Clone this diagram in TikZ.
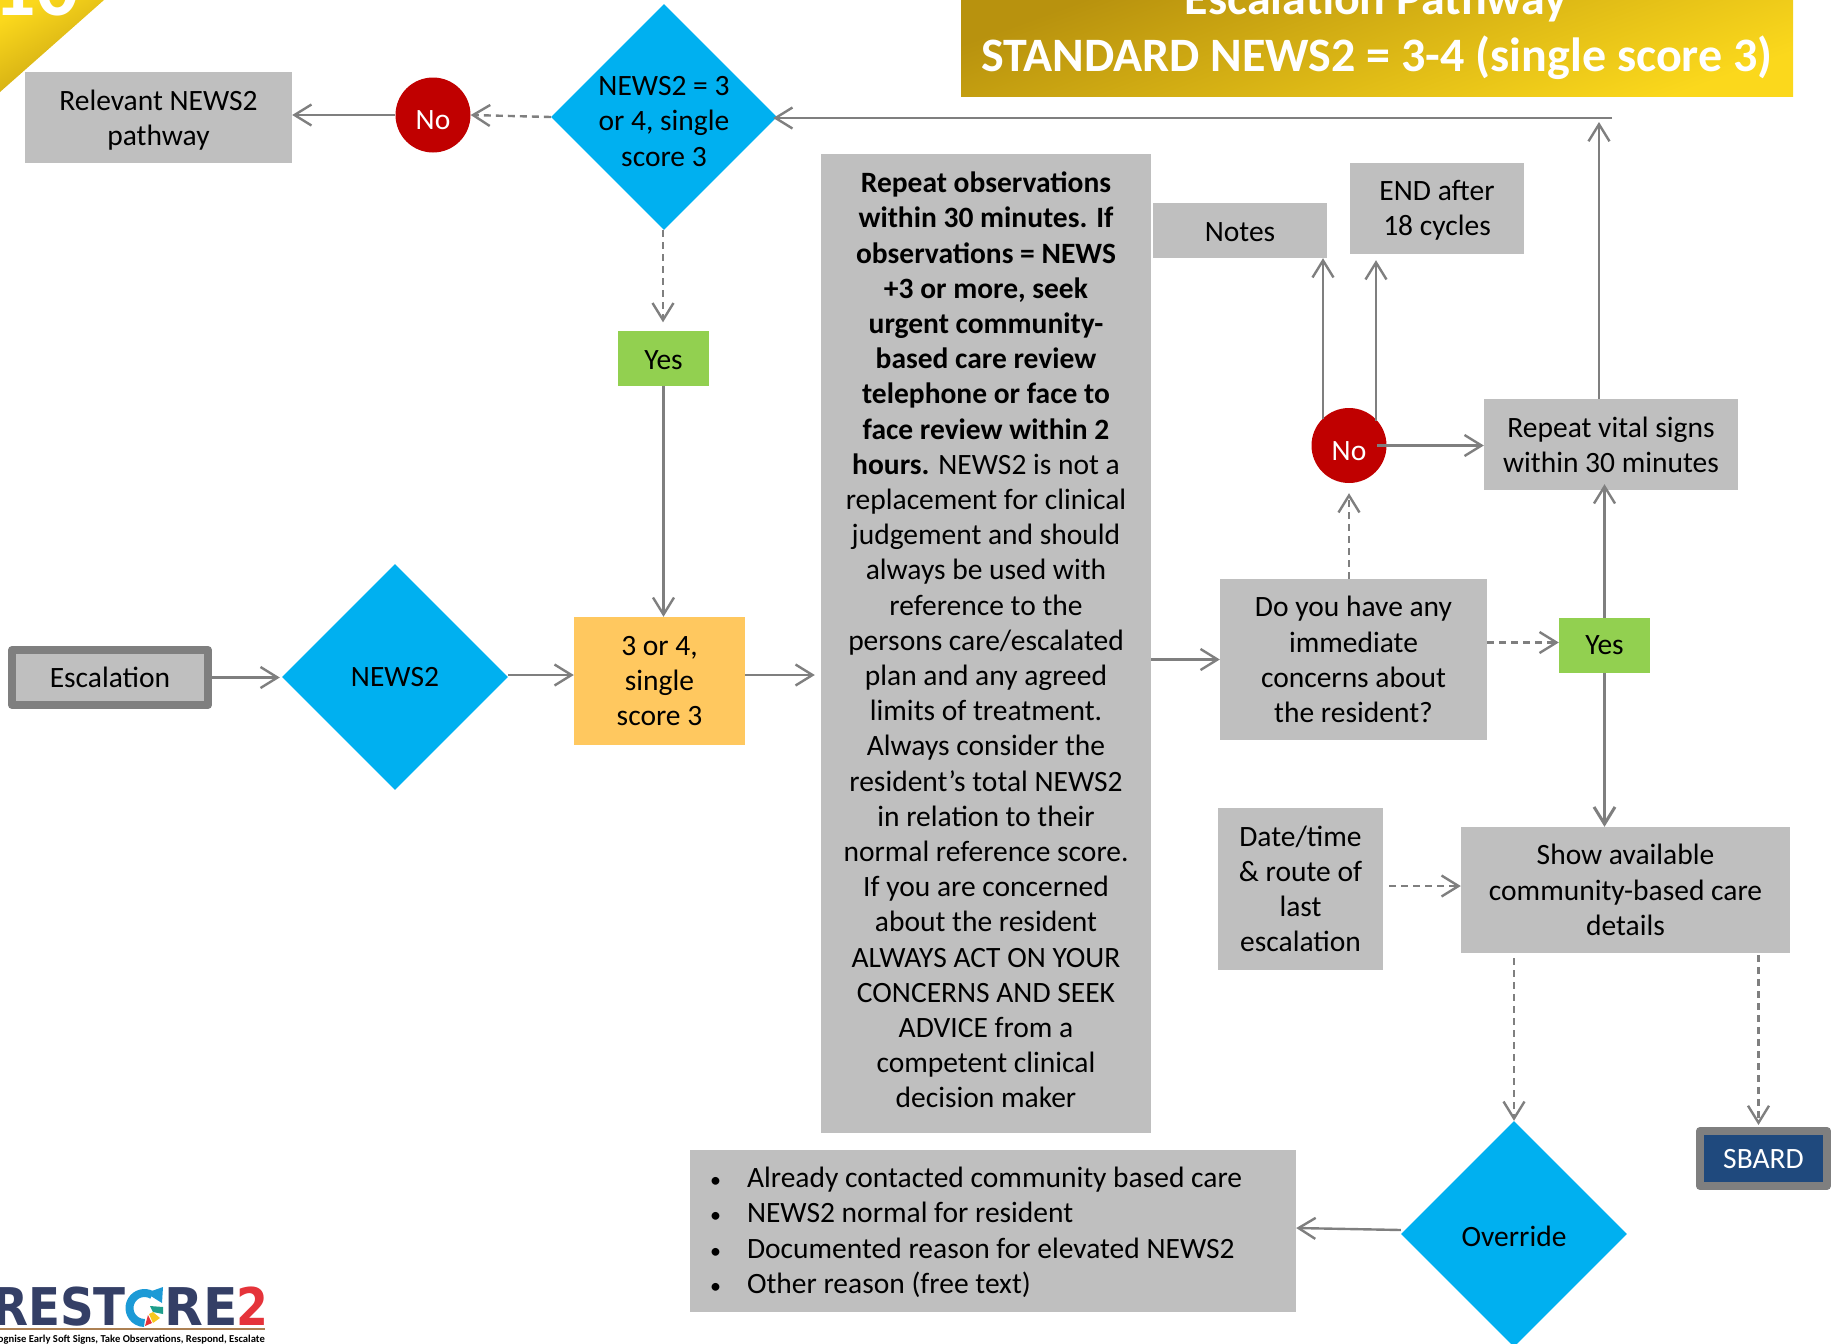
\documentclass[tikz,border=0pt]{standalone}
\usepackage{fontspec}
\setmainfont{Carlito}
\newfontfamily\logofont{DejaVu Sans}
\usetikzlibrary{shapes.geometric,arrows.meta}
\definecolor{boxgrey}{HTML}{BFBFBF}
\definecolor{linegrey}{HTML}{7F7F7F}
\definecolor{decblue}{HTML}{00B0F0}
\definecolor{nored}{HTML}{C00000}
\definecolor{yesgreen}{HTML}{92D050}
\definecolor{scoreorange}{HTML}{FFC85F}
\definecolor{sbardblue}{HTML}{1F497D}
\definecolor{golddark}{HTML}{B8920E}
\definecolor{goldlight}{HTML}{FBD81C}
\definecolor{logonavy}{HTML}{343F66}
\definecolor{logored}{HTML}{E5333A}
\definecolor{logoblue}{HTML}{1C9AD6}
\definecolor{logoteal}{HTML}{1E9E8C}
\definecolor{logoyellow}{HTML}{F7C81E}
\newcommand{\bodytxt}{\fontsize{29.5}{35.2}\selectfont}
\newcommand{\bul}{\makebox[37pt][l]{\fontsize{22}{22}\selectfont\textbullet}}

\begin{document}
\begin{tikzpicture}[
			x=1pt,y=-1pt,
			>={Straight Barb[length=17pt,width=21pt]},
			every node/.style={font=\bodytxt,align=center,inner sep=0pt},
			greybox/.style={fill=boxgrey,text=black},
			decision/.style={diamond,aspect=1,fill=decblue,minimum width=226pt,minimum height=226pt,inner sep=-10pt},
			nocircle/.style={circle,fill=nored,text=white,minimum size=75pt,text height=30pt},
			yesbox/.style={fill=yesgreen},
			framebox/.style={draw=linegrey,line width=8pt,line join=round},
			flow/.style={draw=linegrey,line width=2.4pt,->},
			dashflow/.style={flow,dash pattern=on 7pt off 5pt},
			flowthick/.style={flow,line width=3pt},
			titletxt/.style={text=white,font=\fontsize{48}{48}\selectfont\bfseries,anchor=base},
			logotxt/.style={font=\fontsize{52}{52}\selectfont\logofont\bfseries}
			]

			\useasboundingbox (0,0) rectangle (1837,1344);
			\clip (0,0) rectangle (1837,1344);

			% banner and corner tag
			\shade[left color=golddark,right color=goldlight,shading angle=20] (961,0) rectangle (1793,96);
			\shade[left color=goldlight,right color=golddark!80!goldlight,shading angle=30] (0,0) -- (104,0) -- (0,92) -- cycle;
			\node[text=white,font=\fontsize{84}{84}\selectfont\bfseries,anchor=base] (tagnum) at (36,15) {10};
			\node[titletxt] (titlea) at (1376,14) {Escalation Pathway};
			\node[titletxt] (titleb) at (1377,71) {STANDARD NEWS2 = 3-4 (single score 3)};

			% top row
			\node[greybox,minimum width=267pt,minimum height=91pt] (relevant) at (158.5,117.5) {\rule{0pt}{26pt}Relevant NEWS2\\pathway};
			\node[nocircle] (notop) at (433,115) {No};
			\node[decision] (newsthree) at (664,117) {\rule{0pt}{28pt}NEWS2 = 3\\or 4, single\\score 3};
			\node[yesbox,minimum width=91pt,minimum height=55pt,text height=23pt] (yestop) at (663.5,358) {Yes};

			% main row
			\node[greybox,framebox,minimum width=196pt,minimum height=55pt] (escalation) at (110,677.5) {Escalation};
			\node[decision] (newsmain) at (395,677) {NEWS2};
			\node[fill=scoreorange,minimum width=171pt,minimum height=128pt] (score) at (659.5,681) {3 or 4,\\single\\score 3};

			\node[greybox,minimum width=330pt,minimum height=979pt] (repeatobs) at (986,643.5) {\textbf{Repeat observations}\\\textbf{within 30 minutes. If}\\\textbf{observations = NEWS}\\\textbf{+3 or more, seek}\\\textbf{urgent community-}\\\textbf{based care review}\\\textbf{telephone or face to}\\\textbf{face review within 2}\\\textbf{hours.} NEWS2 is not a\\replacement for clinical\\judgement and should\\always be used with\\reference to the\\persons care/escalated\\plan and any agreed\\limits of treatment.\\Always consider the\\resident's total NEWS2\\in relation to their\\normal reference score.\\If you are concerned\\about the resident\\ALWAYS ACT ON YOUR\\CONCERNS AND SEEK\\ADVICE from a\\competent clinical\\decision maker\rule[-7pt]{0pt}{7pt}};

			% right column
			\node[greybox,minimum width=174pt,minimum height=55pt,text height=23pt] (notes) at (1240,230.5) {Notes};
			\node[greybox,minimum width=174pt,minimum height=91pt] (endcycles) at (1437,208.5) {\rule{0pt}{24pt}END after\\18 cycles};
			\node[nocircle] (noright) at (1349,445.5) {No};
			\node[greybox,minimum width=254pt,minimum height=91pt] (repeatvital) at (1611,444.5) {Repeat vital signs\\within 30 minutes};
			\node[greybox,minimum width=267pt,minimum height=161pt] (concerns) at (1353.5,659.5) {Do you have any\\immediate\\concerns about\\the resident?};
			\node[yesbox,minimum width=91pt,minimum height=55pt] (yesright) at (1604.5,645.5) {Yes};
			\node[greybox,minimum width=165pt,minimum height=162pt] (lastesc) at (1300.5,889) {Date/time\\\& route of\\last\\escalation};
			\node[greybox,minimum width=329pt,minimum height=126pt] (showcare) at (1625.5,890) {Show available\\community-based care\\details};
			\node[fill=sbardblue,text=white,framebox,minimum width=127pt,minimum height=55pt,text height=21pt] (sbard) at (1763.5,1158.5) {SBARD};

			% bottom row
			\node[decision,text height=26pt] (override) at (1514,1234) {Override};
			\node[greybox,minimum width=606pt,minimum height=162pt,text width=566pt,align=flush left,inner xsep=20pt] (reasons) at (993,1231) {\rule{0pt}{23pt}\bul Already contacted community based care\\\bul NEWS2 normal for resident\\\bul Documented reason for elevated NEWS2\\\bul Other reason (free text)};

			% connectors
			\coordinate (loopend) at (1612,118);
			\coordinate (looptip) at (1599,122);
			\draw[dashflow] (newsthree.west) -- (notop.east);
			\draw[flow] (notop.west) -- (relevant.east |- notop);
			\draw[flow] (loopend) -- ([xshift=-4pt]newsthree.east |- loopend);
			\draw[flow] ([xshift=-12pt]repeatvital.north) -- (looptip);
			\draw[dashflow] ([xshift=-1pt]newsthree.south) -- ([xshift=-.5pt,yshift=8pt]yestop.north);
			\draw[flow] (yestop.south) -- (score.north -| yestop);
			\draw[flow] (escalation.east) -- ([xshift=-2pt,yshift=-.5pt]newsmain.west);
			\draw[flow] ([yshift=2pt]newsmain.east) -- ([yshift=6pt]score.west);
			\draw[flow] ([yshift=6pt]score.east) -- ([xshift=-6pt,yshift=6pt]repeatobs.west |- score);
			\draw[flow] (repeatobs.east |- concerns) -- (concerns.west);
			\draw[dashflow] (concerns.north -| noright) -- ([yshift=-10pt]noright.south);
			\draw[dashflow] ([yshift=3pt]concerns.east |- yesright) -- ([yshift=3pt]yesright.west);
			\draw[flow] (yesright.north) -- ([yshift=6pt]repeatvital.south -| yesright);
			\draw[flowthick] (yesright.south) -- (showcare.north -| yesright);
			\draw[flow] ([xshift=28pt]noright.center) -- (repeatvital.west |- noright);
			\draw[flow] ([xshift=-26pt,yshift=27pt]noright.center) -- ([xshift=-26pt]noright.center |- notes.south);
			\draw[flow] ([xshift=27pt,yshift=25pt]noright.center) -- ([xshift=27pt,yshift=-6pt]noright.center |- endcycles.south);
			\draw[dashflow] ([xshift=6pt,yshift=3pt]lastesc.east) -- ([yshift=4pt]showcare.west);
			\draw[dashflow] ([xshift=-111.5pt,yshift=-5pt]showcare.south) -- (override.north);
			\draw[dashflow] ([xshift=-5pt,yshift=-2pt]sbard.north |- showcare.south) -- ([xshift=-5pt,yshift=2pt]sbard.north);
			\draw[flow] ([yshift=4pt]override.west) -- ([yshift=3pt]reasons.east);

			% logo
			\node[logotxt,text=logonavy,anchor=base east,xscale=.9] (logoa) at (126,1325) {REST};
			\node[logotxt,text=logonavy,anchor=base west,xscale=.97] (logob) at (164,1325) {RE};
			\node[logotxt,text=logored,anchor=base west,xscale=.88] (logoc) at (236,1325) {2};
			\draw[logoblue,line width=8pt] (152,1295) arc (-60:-270:15);
			\fill[logoblue] (146,1293) -- (163,1287) -- (162,1303) -- cycle;
			\fill[logoteal] (150,1306) -- (163,1307) -- (163,1314) -- (153,1312) -- cycle;
			\fill[logoyellow] (153,1312) -- (160,1318) -- (153,1323) -- (149,1314) -- cycle;
			\fill[logored] (148,1315) -- (152,1323) -- (145,1326) -- cycle;
			\draw[brown!70!gray,line width=1.5pt] (0,1329) -- (265,1329);
			\node[font=\fontsize{10.6}{11}\selectfont\bfseries,anchor=base east] (logotag) at (265,1342) {Recognise Early Soft Signs, Take Observations, Respond, Escalate};

			\end{tikzpicture}
\end{document}
